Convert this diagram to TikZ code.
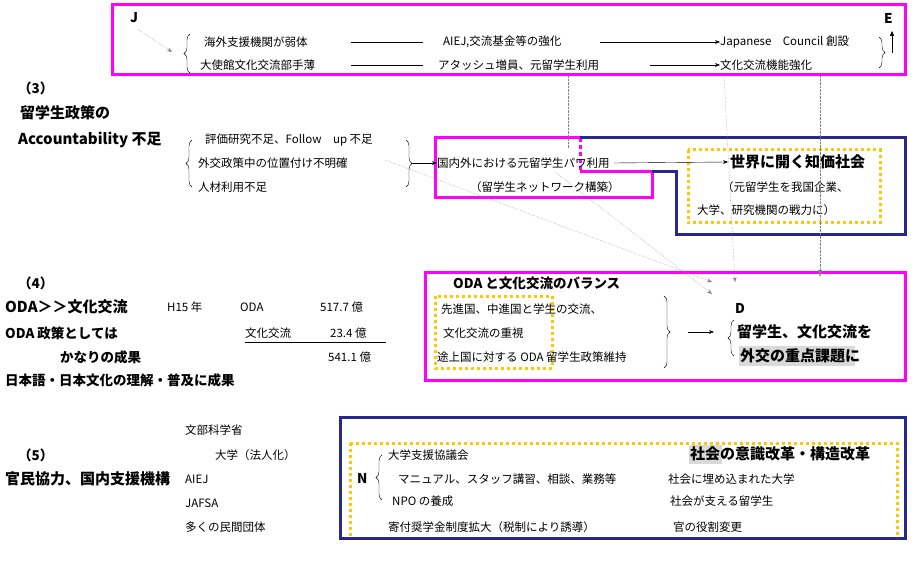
\documentclass[tikz,border=0pt]{standalone}
\usepackage{fontspec}
\setmainfont{Noto Sans CJK JP}
\usetikzlibrary{arrows.meta,decorations.pathreplacing}
\definecolor{mag}{RGB}{255,0,255}
\definecolor{navy}{RGB}{40,40,140}
\definecolor{gold}{RGB}{255,200,0}
\tikzset{
  txt/.style={anchor=west, inner sep=0pt, font=\fontsize{11.5}{13}\selectfont},
  btxt/.style={anchor=west, inner sep=0pt, font=\fontsize{13.5}{15}\selectfont\bfseries},
  big/.style={anchor=west, inner sep=0pt, font=\fontsize{15}{17}\selectfont\bfseries},
  magbox/.style={draw=mag, line width=3pt},
  navybox/.style={draw=navy, line width=3pt},
  goldbox/.style={draw=gold, line width=3pt, dash pattern=on 3pt off 3pt},
  faint/.style={draw=gray, thin, densely dotted, -{Stealth[length=5pt]}},
  brc/.style={decorate, decoration={brace, amplitude=6pt}, thin},
}
\begin{document}
\begin{tikzpicture}[x=1pt,y=-1pt]
  \useasboundingbox (0,0) rectangle (920,569);

  %% top box
  \draw[magbox] (112,5) rectangle (905,75);
  \node[btxt] (J) at (130,18) {J};
  \node[btxt] (E) at (884,18) {E};
  \node[txt] (w1) at (204,42) {海外支援機関が弱体};
  \node[txt] (w2) at (200,65) {大使館文化交流部手薄};
  \node[txt] (m1) at (443,42) {AIEJ,交流基金等の強化};
  \node[txt] (m2) at (438,65) {アタッシュ増員、元留学生利用};
  \node[txt] (r1) at (720,42) {Japanese\quad Council 創設};
  \node[txt] (r2) at (720,65) {文化交流機能強化};
  \coordinate (jb) at (188,52);
  \draw[faint] (J.south) ++(4,6) -- ([xshift=-16pt]jb);
  \draw[brc] (190,73) -- (190,34);
  \draw (351,42) -- (423,42);
  \draw (351,65) -- (423,65);
  \draw[-{Stealth[length=5pt]}] (600,42) -- (r1.west);
  \draw[-{Stealth[length=5pt]}] (650,65) -- (r2.west);
  \draw[brc] (879,37) -- (879,68);
  \draw[-{Triangle[length=5pt]}] (892,53) -- (892,31);

  %% (3)
  \node[btxt] (n3) at (18,88) {（3）};
  \node[big] (t3a) at (20,113) {留学生政策の};
  \node[big] (t3b) at (18,140) {Accountability 不足};
  \node[txt] (a1) at (205,140) {評価研究不足、Follow\quad up 不足};
  \node[txt] (a2) at (198,163) {外交政策中の位置付け不明確};
  \node[txt] (a3) at (198,187) {人材利用不足};
  \draw[brc] (192,187) -- (192,140);
  \draw[brc] (406,140) -- (406,187);
  \draw[magbox] (580,138) -- (435,138) -- (435,198) -- (652,198) -- (652,172) -- (580,172);
  \draw[draw=mag, line width=3pt, dash pattern=on 4pt off 3pt] (580,138) -- (580,172);
  \draw[navybox] (580,138) -- (905,138) -- (905,235) -- (676,235) -- (676,172) -- (652,172);
  \node[txt] (p1) at (437,163) {国内外における元留学生パワ利用};
  \node[txt] (p2) at (470,187) {（留学生ネットワーク構築）};
  \draw[-{Stealth[length=5pt]}] (412,163) -- (p1.west);
  \draw[goldbox] (688,150) rectangle (880,223);
  \node[big] (k1) at (730,162) {世界に開く知価社会};
  \node[txt] (k2) at (722,187) {（元留学生を我国企業、};
  \node[txt] (k3) at (697,210) {大学、研究機関の戦力に）};
  \draw[-{Stealth[length=5pt]}] (p1.east) ++(4,0) -- ([xshift=-2pt]k1.west);

  %% (4)
  \node[btxt] (n4) at (18,283) {（4）};
  \node[big] (o1) at (5,307) {ODA＞＞文化交流};
  \node[txt] (h15) at (167,307) {H15 年};
  \node[txt] (oda) at (240,307) {ODA};
  \node[txt] (v1) at (320,307) {517.7 億};
  \node[btxt] (o2) at (5,333) {ODA 政策としては};
  \node[txt] (bk) at (245,333) {文化交流};
  \node[txt] (v2) at (330,333) {23.4 億};
  \draw (245,342) -- (386,342);
  \node[btxt] (o3) at (60,357) {かなりの成果};
  \node[txt] (v3) at (328,357) {541.1 億};
  \node[btxt] (o4) at (5,380) {日本語・日本文化の理解・普及に成果};
  \draw[magbox] (425,272) rectangle (905,380);
  \node[btxt] (bal) at (453,283) {ODA と文化交流のバランス};
  \draw[goldbox] (435,296) rectangle (552,368);
  \node[txt] (b1) at (441,309) {先進国、中進国と学生の交流、};
  \node[txt] (b2) at (443,333) {文化交流の重視};
  \node[txt] (b3) at (437,357) {途上国に対する ODA 留学生政策維持};
  \draw[brc] (664,296) -- (664,368);
  \node[btxt] (D) at (735,308) {D};
  \draw[brc] (734,356) -- (734,320);
  \node[big] (d1) at (737,332) {留学生、文化交流を};
  \fill[gray!30] (739,346) rectangle (855,366);
  \node[big] (d2) at (740,356) {外交の重点課題に};
  \draw[-{Stealth[length=5pt]}] (688,332) -- (714,332);

  %% dotted links
  \draw[faint] (385,160) -- (712,282);
  \draw[faint] (555,172) -- (712,294);
  \draw[draw=gray, thin, densely dotted] (568,76) -- (568,148);
  \draw[faint] (724,76) -- (735,282);
  \draw[draw=gray, thin, densely dotted, -{Triangle[length=7pt]}] (820,76) -- (820,277);

  %% (5)
  \node[btxt] (n5) at (18,455) {（5）};
  \node[big] (t5) at (5,479) {官民協力、国内支援機構};
  \node[txt] (s1) at (185,430) {文部科学省};
  \node[txt] (s2) at (215,455) {大学（法人化）};
  \node[txt] (s3) at (185,479) {AIEJ};
  \node[txt] (s4) at (185,503) {JAFSA};
  \node[txt] (s5) at (185,527) {多くの民間団体};
  \draw[navybox] (340,417) rectangle (905,538);
  \draw[goldbox] (350,443) -- (897,443) -- (897,538);
  \draw[goldbox] (350,443) -- (350,538);
  \node[btxt] (N) at (357,478) {N};
  \draw[brc] (382,500) -- (382,455);
  \node[txt] (u1) at (388,455) {大学支援協議会};
  \node[txt] (u2) at (398,479) {マニュアル、スタッフ講習、相談、業務等};
  \node[txt] (u3) at (392,501) {NPO の養成};
  \node[txt] (u4) at (388,527) {寄付奨学金制度拡大（税制により誘導）};
  \fill[gray!30] (689,445) rectangle (722,464);
  \node[big] (g0) at (690,454) {社会の意識改革・構造改革};
  \node[txt] (g1) at (668,479) {社会に埋め込まれた大学};
  \node[txt] (g2) at (670,501) {社会が支える留学生};
  \node[txt] (g3) at (673,527) {官の役割変更};
\end{tikzpicture}
\end{document}
